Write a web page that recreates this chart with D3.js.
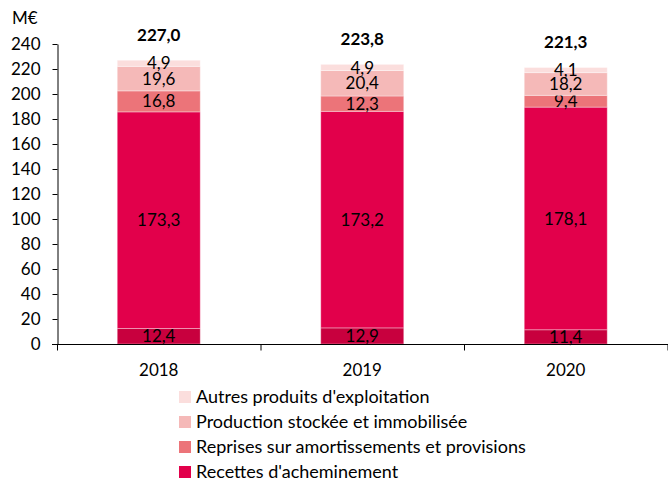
<!DOCTYPE html>
<html>
<head>
<meta charset="utf-8">
<script src="https://cdn.jsdelivr.net/npm/d3@7"></script>
<style>
  body { margin: 0; background: #fff; }
  svg text { font-family: Lato, "Open Sans", sans-serif; fill: #000; }
</style>
</head>
<body>
<div id="chart"></div>
<script>
// data
const years = ["2018", "2019", "2020"];
const autresRecettes = [12.4, 12.9, 11.4];
const recettesAcheminement = [173.3, 173.2, 178.1];
const reprises = [16.8, 12.3, 9.4];
const production = [19.6, 20.4, 18.2];
const autresProduits = [4.9, 4.9, 4.1];
const totals = [227.0, 223.8, 221.3];
const yTicks = [0, 20, 40, 60, 80, 100, 120, 140, 160, 180, 200, 220, 240];

const series = [
  { key: "base", name: null, values: autresRecettes, color: "#C8003E" },
  { key: "rec", name: "Recettes d'acheminement", values: recettesAcheminement, color: "#E2004B" },
  { key: "rep", name: "Reprises sur amortissements et provisions", values: reprises, color: "#EC7479" },
  { key: "prod", name: "Production stockée et immobilisée", values: production, color: "#F5B9B8" },
  { key: "aut", name: "Autres produits d'exploitation", values: autresProduits, color: "#FBDEDD" }
];

const fmt = v => d3.format(".1f")(v).replace(".", ",");

const width = 668, height = 481;
const margins = { top: 44, right: 0, bottom: 137, left: 57 };

const table = years.map((y, i) => {
  const row = { year: y };
  series.forEach(s => row[s.key] = s.values[i]);
  return row;
});
const stacked = d3.stack().keys(series.map(s => s.key))(table);

const x = d3.scaleBand()
  .domain(years)
  .range([margins.left, width - margins.right - 0.5]);
const y = d3.scaleLinear()
  .domain([0, 240])
  .range([height - margins.bottom, margins.top]);

const barW = 83;

const svg = d3.select("#chart").append("svg")
  .attr("width", width)
  .attr("height", height)
  .attr("viewBox", [0, 0, width, height]);

// bars
const groups = svg.append("g")
  .selectAll("g")
  .data(stacked)
  .join("g")
  .attr("fill", (d, i) => series[i].color);

groups.selectAll("rect")
  .data(d => d)
  .join("rect")
  .attr("x", d => x(d.data.year) + x.bandwidth() / 2 - barW / 2)
  .attr("y", d => y(d[1]))
  .attr("width", barW)
  .attr("height", d => y(d[0]) - y(d[1]))
  .attr("stroke", "#fff")
  .attr("stroke-opacity", 0.35)
  .attr("stroke-width", 1);

// segment labels
groups.selectAll("text")
  .data(d => d.map(p => ({ p, v: p[1] - p[0] })))
  .join("text")
  .attr("x", d => x(d.p.data.year) + x.bandwidth() / 2)
  .attr("y", d => (y(d.p[0]) + y(d.p[1])) / 2)
  .attr("dy", "0.36em")
  .attr("text-anchor", "middle")
  .style("font-size", "17px")
  .text(d => fmt(d.v));

// totals
svg.append("g")
  .selectAll("text")
  .data(years)
  .join("text")
  .attr("x", d => x(d) + x.bandwidth() / 2)
  .attr("y", (d, i) => y(totals[i]) - 25)
  .attr("dy", "0.36em")
  .attr("text-anchor", "middle")
  .style("font-size", "17px")
  .style("font-weight", "bold")
  .text((d, i) => fmt(totals[i]));

// y axis
svg.append("g")
  .attr("transform", `translate(${margins.left + 0.5},0)`)
  .call(d3.axisLeft(y).tickValues(yTicks).tickSize(5).tickSizeOuter(0).tickPadding(12)
    .tickFormat(d3.format("d")))
  .call(g => g.selectAll("line, path").attr("stroke", "#000"))
  .call(g => g.selectAll("text").style("font-size", "17px"));

svg.append("text")
  .attr("x", 12)
  .attr("y", 24)
  .style("font-size", "17px")
  .text("M€");

// x axis with ticks at band boundaries
const xAxis = svg.append("g")
  .attr("transform", `translate(0,${y(0) + 0.5})`);
xAxis.append("line")
  .attr("x1", margins.left - 5).attr("x2", width)
  .attr("stroke", "#000");
xAxis.selectAll("line.sep")
  .data(years)
  .join("line")
  .attr("class", "sep")
  .attr("x1", d => x(d) + x.bandwidth() + 0.5)
  .attr("x2", d => x(d) + x.bandwidth() + 0.5)
  .attr("y1", 0).attr("y2", 6)
  .attr("stroke", "#000");
xAxis.append("line")
  .attr("x1", margins.left + 0.5).attr("x2", margins.left + 0.5)
  .attr("y1", 0).attr("y2", 6)
  .attr("stroke", "#000");
xAxis.selectAll("text")
  .data(years)
  .join("text")
  .attr("x", d => x(d) + x.bandwidth() / 2)
  .attr("y", 25)
  .attr("dy", "0.36em")
  .attr("text-anchor", "middle")
  .style("font-size", "17px")
  .text(d => d);

// legend (top to bottom, reversed stack order)
const legendItems = series.filter(s => s.name).reverse();
const legend = svg.append("g")
  .attr("transform", "translate(179,397)")
  .selectAll("g")
  .data(legendItems)
  .join("g")
  .attr("transform", (d, i) => `translate(0,${i * 25})`);
legend.append("rect")
  .attr("x", 0).attr("y", -6)
  .attr("width", 12).attr("height", 12)
  .attr("fill", d => d.color);
legend.append("text")
  .attr("x", 17)
  .attr("dy", "0.36em")
  .style("font-size", "18px")
  .text(d => d.name);
</script>
</body>
</html>
